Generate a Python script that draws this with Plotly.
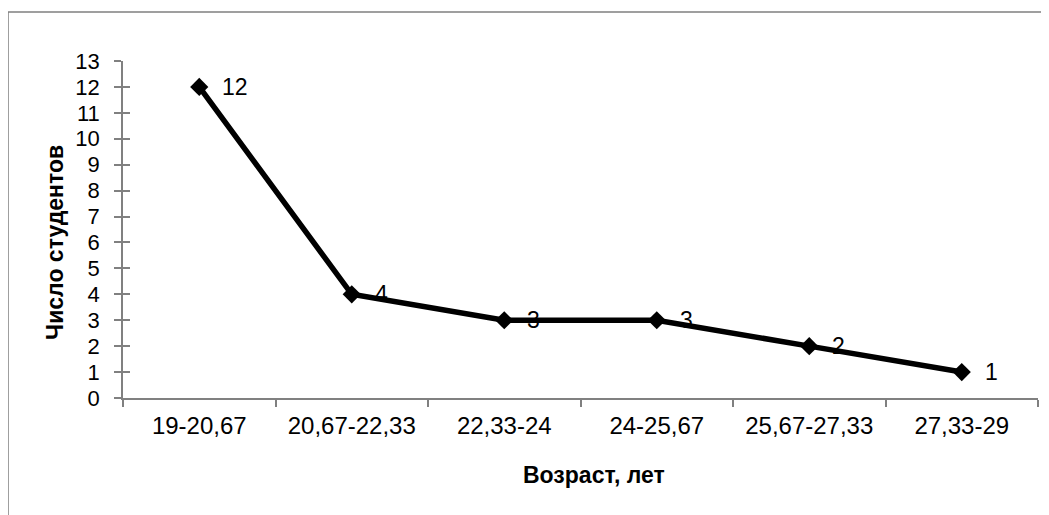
import plotly.graph_objects as go

categories = ["19-20,67", "20,67-22,33", "22,33-24", "24-25,67", "25,67-27,33", "27,33-29"]
students = [12, 4, 3, 3, 2, 1]
y_ticks = list(range(0, 14))
x_title = "Возраст, лет"
y_title = "Число студентов"

FONT = "Liberation Sans, Arial, sans-serif"
OFF = 8  # page body margin

L, R, T, B = 123, 1038, 61, 398
PW, PH = R - L, B - T

fig = go.Figure()
fig.add_trace(go.Scatter(
    x=categories, y=students, mode="lines+markers",
    line=dict(color="black", width=5.5),
    marker=dict(symbol="diamond", size=14, color="black"),
    showlegend=False, hoverinfo="skip",
))
fig.add_trace(go.Scatter(x=categories, y=students, yaxis="y2", mode="none",
                         showlegend=False, hoverinfo="skip"))

for c, v in zip(categories, students):
    fig.add_annotation(x=c, y=v, text=str(v), showarrow=False, xanchor="left",
                       yanchor="middle", xshift=21, yshift=0,
                       font=dict(family=FONT, size=23, color="black"))

fig.add_annotation(xref="paper", yref="paper", x=(594 - L) / PW, y=-(475 - B) / PH,
                   text="<b>" + x_title + "</b>", showarrow=False, xanchor="center",
                   yanchor="middle", font=dict(family=FONT, size=23, color="black"))
fig.add_annotation(xref="paper", yref="paper", x=-(L - 55) / PW, y=(B - 243) / PH,
                   text="<b>" + y_title + "</b>", showarrow=False, textangle=-90,
                   xanchor="center", yanchor="middle",
                   font=dict(family=FONT, size=23, color="black"))

fig.add_shape(type="rect", xref="paper", yref="paper",
              x0=-(L - 8) / PW, x1=1.2, y0=-1.0, y1=1 + (T - 12) / PH,
              line=dict(color="#808080", width=1.5), fillcolor="rgba(0,0,0,0)", layer="below")

fig.update_layout(
    width=1049 - OFF, height=515 - OFF,
    margin=dict(l=L - OFF, r=1049 - R, t=T - OFF, b=515 - B),
    paper_bgcolor="white", plot_bgcolor="white",
    font=dict(family=FONT, color="black"),
    xaxis=dict(
        type="category", tickson="boundaries", showgrid=False, zeroline=False,
        showline=True, linecolor="#808080", linewidth=1.5,
        ticks="outside", ticklen=7, tickcolor="#808080", tickwidth=1.5,
        tickfont=dict(family=FONT, size=24, color="black"),
        ticklabelstandoff=5,
        range=[-0.5, 5.5],
    ),
    yaxis=dict(
        range=[0, 13], tickvals=y_ticks, showgrid=False, zeroline=False,
        showline=True, linecolor="#808080", linewidth=1.5,
        ticks="outside", ticklen=7, tickcolor="#808080", tickwidth=1.5,
        tickfont=dict(family=FONT, size=22, color="black"),
        ticklabelstandoff=10,
    ),
    yaxis2=dict(
        overlaying="y", anchor="x", side="left", range=[0, 13], tickvals=y_ticks,
        showticklabels=False, showgrid=False, zeroline=False, showline=False,
        ticks="inside", ticklen=7, tickcolor="#808080", tickwidth=1.5,
    ),
)

fig.write_html("out.html")
